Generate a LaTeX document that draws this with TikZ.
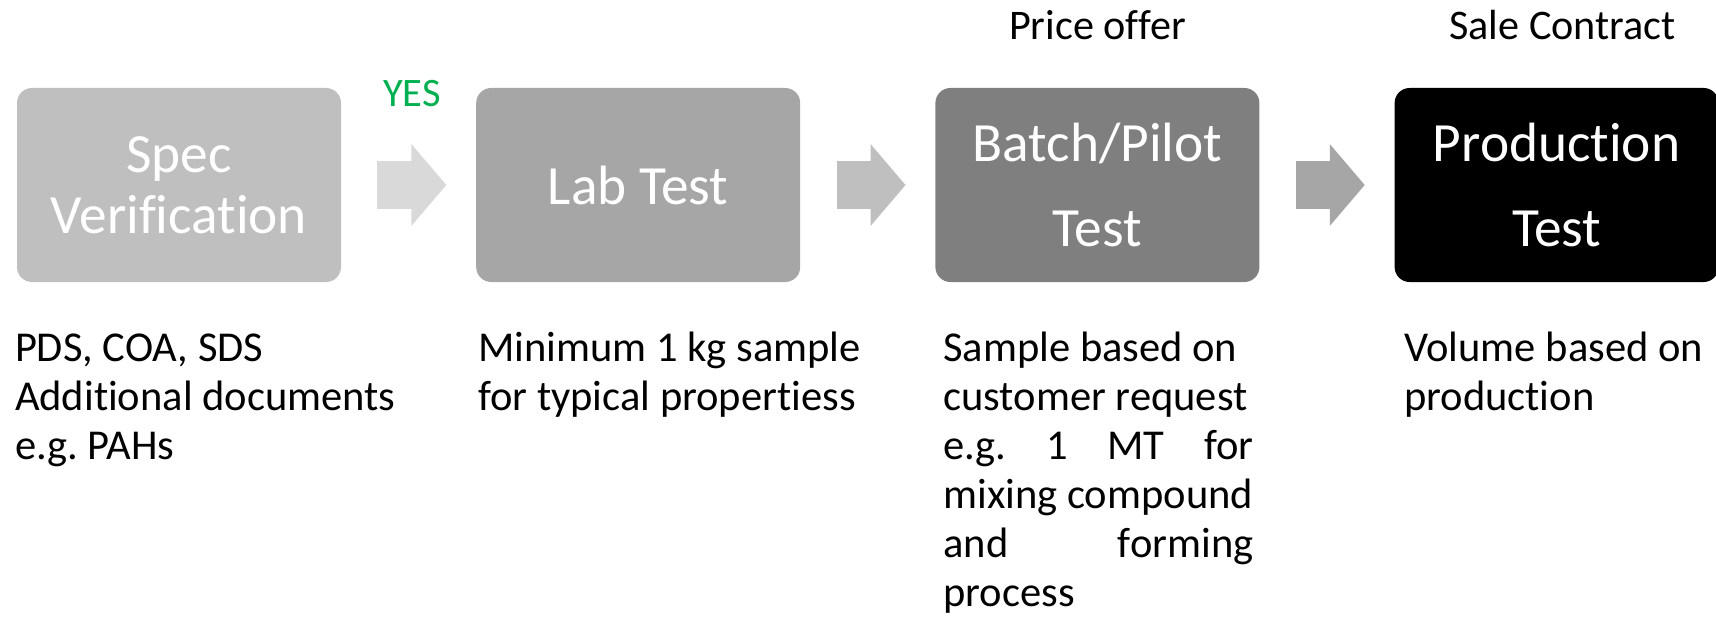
\documentclass[tikz,border=0pt]{standalone}
\usepackage{fontspec}
\setmainfont{Carlito}[Ligatures={NoCommon,NoContextual}, Contextuals=NoAlternate]
\usetikzlibrary{positioning,arrows.meta}
\frenchspacing

\definecolor{stageA}{HTML}{BFBFBF}
\definecolor{stageB}{HTML}{A6A6A6}
\definecolor{stageC}{HTML}{7F7F7F}
\definecolor{flowA}{HTML}{D9D9D9}
\definecolor{flowB}{HTML}{BFBFBF}
\definecolor{flowC}{HTML}{A6A6A6}
\definecolor{yesgreen}{HTML}{00B050}

\tikzset{
  stage/.style={rounded corners=0.3cm, minimum width=6.48cm, minimum height=3.88cm,
    inner sep=0pt, text=white, align=center, font=\fontsize{31.5}{34.7}\selectfont},
  flow/.style={line width=0.96cm, -{Triangle[width=1.6cm,length=0.7cm]}},
  note/.style={anchor=base west, inner sep=0pt, align=justify, text width=8cm,
    font=\fontsize{24.2}{27.9}\selectfont},
  head/.style={anchor=base, inner sep=0pt, font=\fontsize{24}{28}\selectfont}
}

\begin{document}
\begin{tikzpicture}
 \useasboundingbox (0,0) rectangle (34.32,-12.36);
 % stages
 \node[stage, fill=stageA] (spec) at (3.58,-3.70) {Spec\\Verification};
 \node[stage, fill=stageB, right=2.69cm of spec] (lab) {Lab Test};
 \node[stage, fill=stageC, right=2.69cm of lab, font=\fontsize{31.5}{48.5}\selectfont] (batch) {Batch/Pilot\\Test};
 \node[stage, fill=black, right=2.69cm of batch, font=\fontsize{31.5}{48.5}\selectfont] (prod) {Production\\Test};
 % block arrows
 \path
  ([xshift=0.72cm]spec.east) edge[flow, draw=flowA]
    node[anchor=base, yshift=1.56cm, inner sep=0pt, text=yesgreen, font=\fontsize{23}{28}\selectfont] (yes) {YES}
    ([xshift=-0.59cm]lab.west)
  ([xshift=0.72cm]lab.east) edge[flow, draw=flowB] ([xshift=-0.59cm]batch.west)
  ([xshift=0.72cm]batch.east) edge[flow, draw=flowC] ([xshift=-0.59cm]prod.west)
 ;
 % headings
 \node[head] (offer) at ([yshift=0.96cm]batch.north) {Price offer};
 \node[head] (contract) at ([xshift=0.12cm, yshift=0.96cm]prod.north) {Sale Contract};
 % descriptions
 \node[note] (specnote) at ([xshift=-0.04cm, yshift=-1.58cm]spec.south west)
   {PDS, COA, SDS\newline Additional documents\newline e.g. PAHs};
 \node[note] (labnote) at ([xshift=0.04cm, yshift=-1.58cm]lab.south west)
   {Minimum 1 kg sample\newline for typical propertiess};
 \node[note, text width=6.2cm] (batchnote) at ([xshift=0.16cm, yshift=-1.58cm]batch.south west)
   {Sample based on\newline customer request\newline e.g. 1 MT for\linebreak mixing compound\newline and forming\linebreak process};
 \node[note, text width=6.2cm] (prodnote) at ([xshift=0.19cm, yshift=-1.58cm]prod.south west)
   {Volume based on\newline production};
\end{tikzpicture}
\end{document}
